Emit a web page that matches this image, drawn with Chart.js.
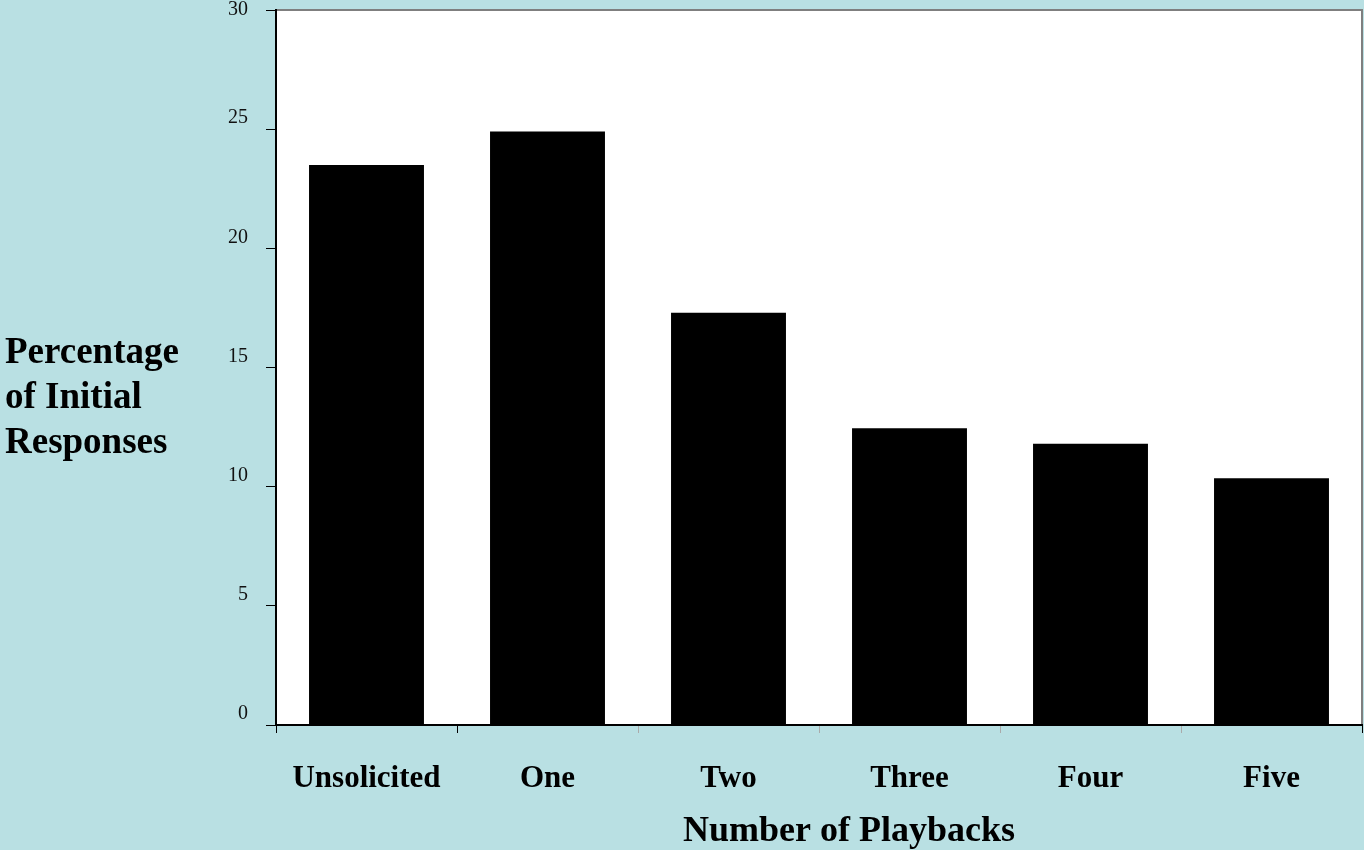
<!DOCTYPE html>
<html>
<head>
<meta charset="utf-8">
<script src="https://cdn.jsdelivr.net/npm/chart.js@4/dist/chart.umd.min.js"></script>
<style>
  html, body { margin: 0; padding: 0; background: #b9e0e3; }
  canvas { display: block; }
</style>
</head>
<body>
<canvas id="chart" width="1364" height="850"></canvas>
<script>
let categories = ["Unsolicited", "One", "Two", "Three", "Four", "Five"];
let percentages = [23.5, 24.9, 17.3, 12.45, 11.8, 10.35];
let yTicks = [0, 5, 10, 15, 20, 25, 30];
let yTitleLines = ["Percentage", "of Initial", "Responses"];
let xTitle = "Number of Playbacks";

const serif = "'Liberation Serif', 'Times New Roman', serif";

// white plot area with grey top/right edges, plus the two axis titles
const plotFrame = {
    id: "plotFrame",
    beforeDraw(chart) {
        const ctx = chart.ctx;
        const a = chart.chartArea;
        ctx.save();
        ctx.fillStyle = "#ffffff";
        ctx.fillRect(a.left, a.top, a.right - a.left, a.bottom - a.top);
        ctx.strokeStyle = "#7f7f7f";
        ctx.lineWidth = 2;
        ctx.beginPath();
        ctx.moveTo(a.left, a.top);
        ctx.lineTo(a.right, a.top);
        ctx.lineTo(a.right, a.bottom);
        ctx.stroke();
        ctx.restore();
    },
    afterDraw(chart) {
        const ctx = chart.ctx;
        const a = chart.chartArea;
        ctx.save();
        ctx.fillStyle = "#000";
        ctx.font = "bold 37px " + serif;
        ctx.textBaseline = "middle";
        ctx.textAlign = "left";
        yTitleLines.forEach((line, i) => {
            ctx.fillText(line, 5, 353 + i * 45);
        });
        ctx.textAlign = "center";
        ctx.font = "bold 36px " + serif;
        ctx.fillText(xTitle, (a.left + a.right) / 2 + 30, 832);
        ctx.restore();
    }
};

new Chart(document.getElementById("chart").getContext("2d"), {
    type: "bar",
    data: {
        labels: categories,
        datasets: [{
            data: percentages,
            backgroundColor: "#000000",
            borderWidth: 0,
            barPercentage: 0.635,
            categoryPercentage: 1.0
        }]
    },
    options: {
        responsive: false,
        animation: false,
        layout: { padding: { left: 0, top: 10, right: 2, bottom: 0 } },
        plugins: {
            legend: { display: false },
            tooltip: { enabled: false }
        },
        scales: {
            x: {
                grid: {
                    offset: true,
                    drawOnChartArea: false,
                    tickLength: 8,
                    tickColor: ["#000", "#000", "#aaa", "#aaa", "#aaa", "#aaa", "#000"],
                    tickWidth: 1
                },
                border: { color: "#000", width: 2 },
                ticks: {
                    color: "#000",
                    padding: 27,
                    font: { family: serif, size: 31, weight: "bold" },
                    maxRotation: 0
                },
                afterFit(scale) {
                    scale.height = 125;
                    scale.paddingLeft = 0;
                    scale.paddingRight = 0;
                }
            },
            y: {
                min: 0,
                max: 30,
                afterBuildTicks(scale) {
                    scale.ticks = yTicks.map(v => ({ value: v }));
                },
                grid: {
                    drawOnChartArea: false,
                    tickLength: 10,
                    tickColor: "#000",
                    tickWidth: 1
                },
                border: { color: "#000", width: 2 },
                ticks: {
                    color: "#111",
                    padding: 18,
                    font: { family: serif, size: 20, lineHeight: 1.1 },
                    // labels sit a little above their tick marks, except the top one
                    callback: v => v === 30 ? String(v) : [String(v), ""]
                },
                afterFit(scale) {
                    scale.width = 276;
                    scale.paddingTop = 0;
                    scale.paddingBottom = 0;
                }
            }
        }
    },
    plugins: [plotFrame]
});
</script>
</body>
</html>
